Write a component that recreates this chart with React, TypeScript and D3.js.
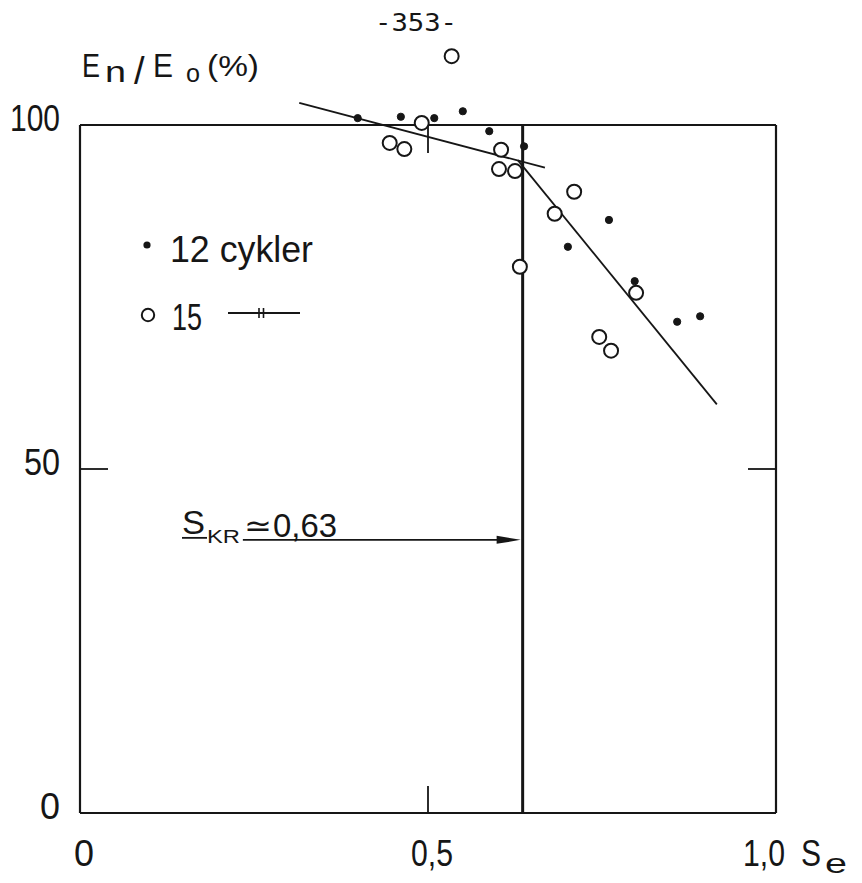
import React from "react";
import * as d3 from "d3";

// ---- data ----
const cycles12X = [0.399, 0.461, 0.509, 0.55, 0.588, 0.638, 0.701, 0.76, 0.797, 0.858, 0.891];
const cycles12Y = [101.0, 101.2, 101.0, 102.0, 99.1, 96.9, 82.3, 86.2, 77.3, 71.4, 72.2];
const cycles15X = [0.534, 0.491, 0.445, 0.466, 0.605, 0.602, 0.625, 0.71, 0.682, 0.632, 0.799, 0.746, 0.763];
const cycles15Y = [110.0, 100.3, 97.4, 96.5, 96.4, 93.6, 93.3, 90.3, 87.1, 79.4, 75.6, 69.2, 67.2];
const fitUpperX = [0.315, 0.668];
const fitUpperY = [103.2, 93.8];
const fitLowerX = [0.629, 0.915];
const fitLowerY = [94.9, 59.4];
const sCritical = 0.636;
const arrowStartX = 0.234;
const arrowLevel = 39.7;
const xTicks = [0, 0.5, 1.0];
const xTickLabels = ["0", "0,5", "1,0"];
const yTicks = [0, 50, 100];
const yTickLabels = ["0", "50", "100"];
const yTickLabelWidths = [20, 36, 50];

const W = 862;
const H = 883;
const FONT = "'Liberation Sans', 'DejaVu Sans', sans-serif";
const INK = "#161616";

export default function App() {
  const x = d3.scaleLinear().domain([0, 1]).range([80, 776]);
  const y = d3.scaleLinear().domain([0, 100]).range([813, 125]);
  const line = d3
    .line<[number, number]>()
    .x((d) => x(d[0]))
    .y((d) => y(d[1]));
  const upper: [number, number][] = fitUpperX.map((v, i) => [v, fitUpperY[i]]);
  const lower: [number, number][] = fitLowerX.map((v, i) => [v, fitLowerY[i]]);

  const ax = x(sCritical);
  const ay = y(arrowLevel);

  return (
    <svg
      width={W}
      height={H}
      viewBox={`0 0 ${W} ${H}`}
      style={{ position: "absolute", left: 0, top: 0, background: "#fff" }}
    >
      <rect x={0} y={0} width={W} height={H} fill="#fff" />

      {/* page number */}
      <text x={375} y={31} fontFamily="'DejaVu Sans Mono', monospace" fontSize={25} fill={INK} textLength={82} lengthAdjust="spacingAndGlyphs">
        -353-
      </text>

      {/* y axis title E_n/E_o (%) */}
      <g fontFamily={FONT} fill={INK}>
        <text x={82} y={77} fontSize={33} textLength={18} lengthAdjust="spacingAndGlyphs">E</text>
        <text x={105} y={82} fontSize={30} textLength={21} lengthAdjust="spacingAndGlyphs">n</text>
        <text x={134} y={84} fontSize={38}>/</text>
        <text x={153} y={77} fontSize={33} textLength={20} lengthAdjust="spacingAndGlyphs">E</text>
        <text x={186} y={82} fontSize={26} textLength={14} lengthAdjust="spacingAndGlyphs">o</text>
        <text x={207} y={76} fontSize={30} textLength={52} lengthAdjust="spacingAndGlyphs">(%)</text>
      </g>

      {/* frame */}
      <g stroke={INK} strokeWidth={2.2} fill="none">
        <line x1={x(0)} y1={y(100)} x2={x(1)} y2={y(100)} />
        <line x1={x(0)} y1={y(0)} x2={x(1)} y2={y(0)} />
        <line x1={x(0)} y1={y(0)} x2={x(0)} y2={y(100)} />
        <line x1={x(1)} y1={y(0)} x2={x(1)} y2={y(100)} />
      </g>

      {/* inner ticks */}
      <g stroke={INK} strokeWidth={1.8}>
        {yTicks
          .filter((v) => v > 0 && v < 100)
          .map((v) => (
            <g key={"yt" + v}>
              <line x1={x(0)} x2={x(0) + 28} y1={y(v)} y2={y(v)} />
              <line x1={x(1) - 28} x2={x(1)} y1={y(v)} y2={y(v)} />
            </g>
          ))}
        {xTicks
          .filter((v) => v > 0 && v < 1)
          .map((v) => (
            <g key={"xt" + v}>
              <line x1={x(v)} x2={x(v)} y1={y(0)} y2={y(0) - 27} />
              <line x1={x(v)} x2={x(v)} y1={y(100)} y2={y(100) + 28} />
            </g>
          ))}
      </g>

      {/* y tick labels */}
      <g fontFamily={FONT} fontSize={37} fill={INK}>
        {yTicks.map((v, i) => (
          <text
            key={"yl" + v}
            x={60 - yTickLabelWidths[i]}
            y={y(v) + 6}
            textLength={yTickLabelWidths[i]}
            lengthAdjust="spacingAndGlyphs"
          >
            {yTickLabels[i]}
          </text>
        ))}
      </g>

      {/* x tick labels */}
      <g fontFamily={FONT} fontSize={37} fill={INK}>
        {xTicks.map((v, i) => {
          const last = i === xTicks.length - 1;
          const w = xTickLabels[i].length === 1 ? 20 : 42;
          const cx = last ? x(v) - 12 : x(v) + 4;
          return (
            <text key={"xl" + v} x={cx - w / 2} y={866} textLength={w} lengthAdjust="spacingAndGlyphs">
              {xTickLabels[i]}
            </text>
          );
        })}
        <text x={801} y={866} fontSize={37} textLength={20} lengthAdjust="spacingAndGlyphs">S</text>
        <text x={825} y={873} fontSize={27} textLength={22} lengthAdjust="spacingAndGlyphs">e</text>
      </g>

      {/* critical stress line */}
      <line x1={ax} x2={ax} y1={y(0)} y2={y(100)} stroke={INK} strokeWidth={3} />

      {/* fitted lines */}
      <path d={line(upper) || ""} stroke={INK} strokeWidth={1.8} fill="none" />
      <path d={line(lower) || ""} stroke={INK} strokeWidth={1.8} fill="none" />

      {/* 12 cycles: filled dots */}
      {cycles12X.map((v, i) => (
        <circle key={"f" + i} cx={x(v)} cy={y(cycles12Y[i])} r={3.6} fill={INK} stroke={INK} strokeWidth={1} />
      ))}

      {/* 15 cycles: open circles */}
      {cycles15X.map((v, i) => (
        <circle key={"o" + i} cx={x(v)} cy={y(cycles15Y[i])} r={7} fill="#fff" stroke={INK} strokeWidth={2} />
      ))}

      {/* S_KR annotation */}
      <g fontFamily={FONT} fill={INK}>
        <text x={182} y={534} fontSize={33} textLength={23} lengthAdjust="spacingAndGlyphs">S</text>
        <text x={207} y={543} fontSize={19} textLength={33} lengthAdjust="spacingAndGlyphs">KR</text>
        <text x={244} y={536} fontSize={30} textLength={28} lengthAdjust="spacingAndGlyphs">≃</text>
        <text x={273} y={537} fontSize={33} textLength={64} lengthAdjust="spacingAndGlyphs">0,63</text>
      </g>
      <line x1={182} x2={207} y1={ay - 2} y2={ay - 2} stroke={INK} strokeWidth={1.8} />
      <line x1={x(arrowStartX)} x2={ax - 18} y1={ay} y2={ay} stroke={INK} strokeWidth={1.6} />
      <path d={`M${ax - 2},${ay} L${ax - 26},${ay - 4} L${ax - 26},${ay + 4} Z`} fill={INK} />

      {/* legend */}
      <g fontFamily={FONT} fill={INK}>
        <circle cx={147} cy={245} r={3.6} fill={INK} />
        <text x={170} y={262} fontSize={36} textLength={143} lengthAdjust="spacingAndGlyphs">12 cykler</text>
        <circle cx={148} cy={315} r={6.2} fill="#fff" stroke={INK} strokeWidth={2} />
        <text x={172} y={330} fontSize={36} textLength={30} lengthAdjust="spacingAndGlyphs">15</text>
        <line x1={228} x2={300} y1={313} y2={313} stroke={INK} strokeWidth={1.8} />
        <line x1={259} x2={259} y1={308} y2={318} stroke={INK} strokeWidth={1.6} />
        <line x1={263.5} x2={263.5} y1={308} y2={318} stroke={INK} strokeWidth={1.6} />
      </g>
    </svg>
  );
}
